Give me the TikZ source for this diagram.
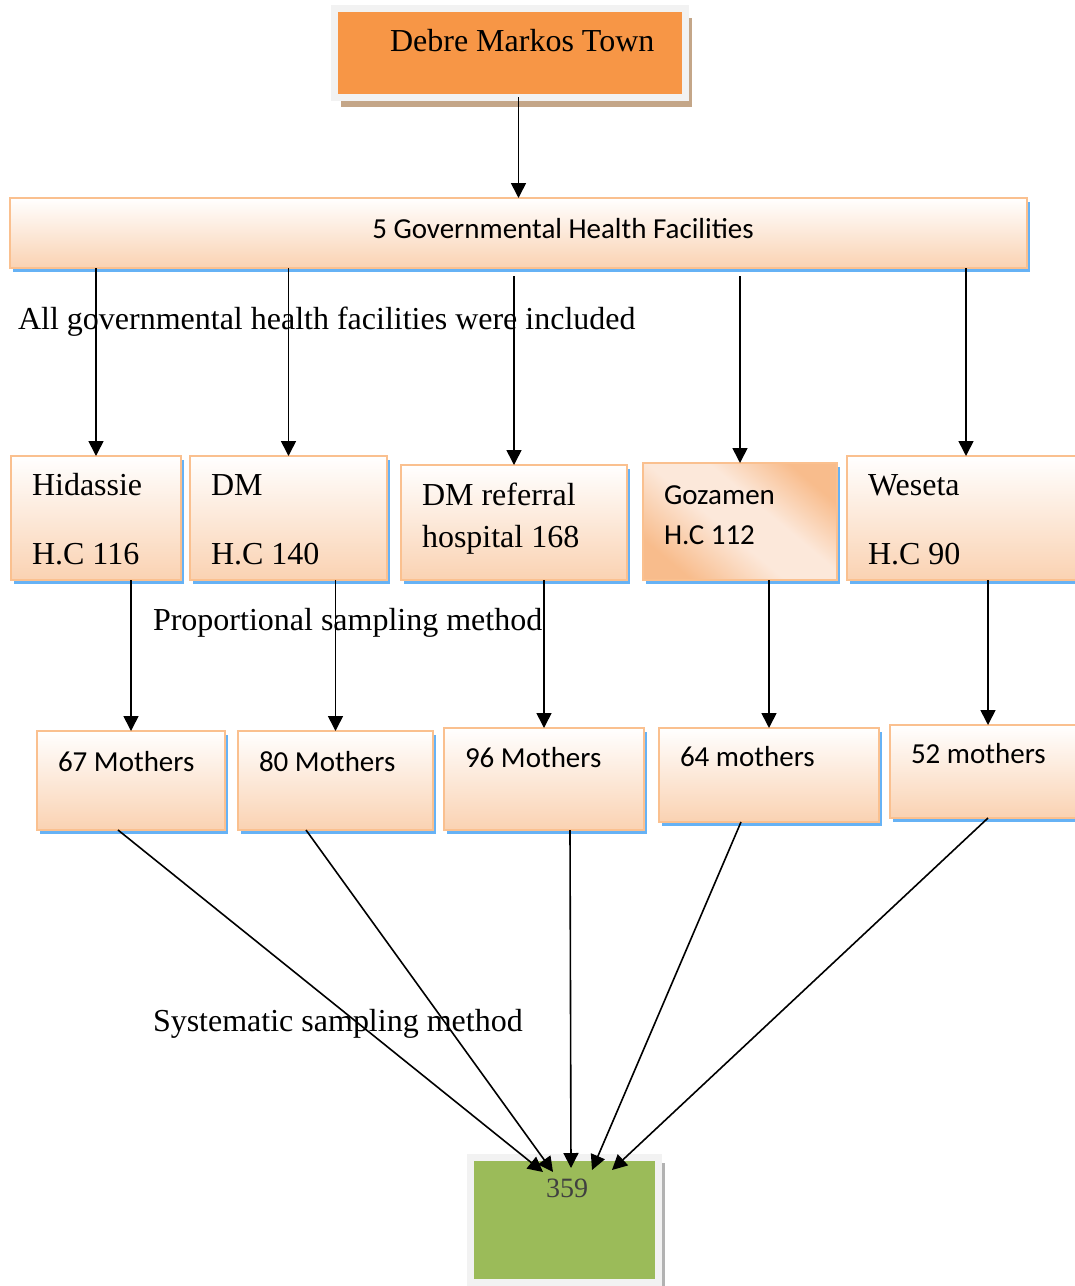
\documentclass[tikz,border=0pt]{standalone}
\usepackage{fontspec}
\setmainfont{Liberation Serif}
\newfontfamily\calib{Carlito}
\usetikzlibrary{arrows.meta,shadows}
\definecolor{townorange}{HTML}{F79646}
\definecolor{framegray}{HTML}{F2F2F2}
\definecolor{peach}{HTML}{FAD2B2}
\definecolor{boxline}{HTML}{FAC08F}
\definecolor{shadowblue}{HTML}{66B2F5}
\definecolor{brownshadow}{HTML}{C4A688}
\definecolor{resgreen}{HTML}{9BBB59}
\definecolor{gozdark}{HTML}{F8BC8C}
\definecolor{gozlight}{HTML}{FCE8DA}
\pgfdeclareverticalshading{gozshade}{100bp}{color(0bp)=(gozdark); color(25bp)=(gozdark); color(45bp)=(gozlight); color(58bp)=(gozlight); color(75bp)=(gozdark); color(100bp)=(gozdark)}
\newcommand{\serifsz}{\fontsize{32pt}{38pt}\selectfont}
\newcommand{\sanssz}{\calib\fontsize{29pt}{40pt}\selectfont}
\begin{document}
\begin{tikzpicture}
  [x=1pt,y=-1pt,
   every node/.style={outer sep=0pt,inner ysep=0pt,text height=22pt},
   box/.style={draw=boxline,line width=1.6pt,top color=white,bottom color=peach,
     drop shadow={shadow xshift=3pt,shadow yshift=-4pt,fill=shadowblue,opacity=1},
     inner xsep=21pt,align=flush left},
   serifbox/.style={box,font=\serifsz},
   sansbox/.style={box,font=\sanssz},
   arr/.style={-{Triangle[length=15pt,width=15pt]},line width=1.6pt},
   note/.style={anchor=base west,inner sep=0pt,font=\serifsz}]
  \useasboundingbox (0,0) rectangle (1075,1286);

  % top and bottom
  \node[draw=framegray,line width=7pt,fill=townorange,font=\serifsz,text depth=25pt,
    drop shadow={shadow xshift=6.5pt,shadow yshift=-10pt,fill=brownshadow,opacity=1},
    minimum width=351.5,minimum height=89] (town) at (509.75,52.5) {\hspace*{25pt}Debre Markos Town};
  \node[sansbox,minimum width=1017,minimum height=70,text depth=12pt] (bar) at (518.5,233)
    {\hspace*{89pt}5 Governmental Health Facilities};
  \node[draw=framegray,line width=7pt,fill=resgreen,text=black!75,font=\fontsize{28pt}{34pt}\selectfont,
    text depth=67pt,drop shadow={shadow xshift=6pt,shadow yshift=-6pt,fill=gray!60,opacity=1},
    minimum width=188,minimum height=125] (res) at (564.5,1219.5) {\hspace*{5pt}359};

  % health facilities
  \node[serifbox,minimum width=170,text width=128pt,minimum height=124,text depth=68pt] (hid) at (96,518)
    {Hidassie\\[31pt]H.C 116};
  \node[serifbox,minimum width=197,text width=155pt,minimum height=124,text depth=68pt] (dm) at (288.5,518)
    {DM\\[31pt]H.C 140};
  \node[serifbox,minimum width=226,text width=184pt,minimum height=115,text depth=57pt] (ref) at (514,522.5)
    {DM referral\\[4pt]hospital 168};
  \node[sansbox,shading=gozshade,shading angle=-40,minimum width=194,text width=152pt,minimum height=117,
    text depth=57pt] (goz) at (740,521.5) {Gozamen\\H.C 112};
  \node[serifbox,minimum width=238,text width=196pt,minimum height=124,text depth=68pt] (wes) at (966,518)
    {Weseta\\[31pt]H.C 90};

  % mothers
  \node[sansbox,minimum width=188,text width=146pt,minimum height=99,text depth=41pt] (m1) at (131,780.5) {67 Mothers};
  \node[sansbox,minimum width=195,text width=153pt,minimum height=99,text depth=41pt] (m2) at (335.5,780.5) {80 Mothers};
  \node[sansbox,minimum width=200,text width=158pt,minimum height=102,text depth=46pt] (m3) at (544,779) {96 Mothers};
  \node[sansbox,minimum width=220,text width=178pt,minimum height=94,text depth=40pt] (m4) at (769,775) {64 mothers};
  \node[sansbox,minimum width=196,text width=154pt,minimum height=93,text depth=39pt] (m5) at (988,771.5) {52 mothers};

  % notes
  \node[note] (incl) at (18,329) {All governmental health facilities were included};
  \node[note] (prop) at (153,630) {Proportional sampling method};
  \node[note] (syst) at (153,1031) {Systematic sampling method};

  \draw[arr] (town.south -| bar.north) -- (bar.north);
\foreach \dest in {hid,dm,wes}
   \draw[arr] (bar.south -| \dest.north) -- (\dest.north);
\foreach \dest in {ref,goz}
   \draw[arr] ([yshift=-8pt]bar.south -| \dest.north) -- (\dest.north);
\foreach \source /\dest in {hid/m1,dm/m2,ref/m3,goz/m4,wes/m5}
   \draw[arr] (\source.south -| \dest.north) -- (\dest.north);
\foreach \source /\sx /\ex /\ey in {m1/-13/-21.5/15,m2/-29.5/-11.5/15,m3/26/6.5/11,m4/-28/27.5/13,m5/0/47.5/13}
   \draw[arr] ([xshift=\sx]\source.south) -- ([shift={(\ex,\ey)}]res.north);

  \end{tikzpicture}
\end{document}
